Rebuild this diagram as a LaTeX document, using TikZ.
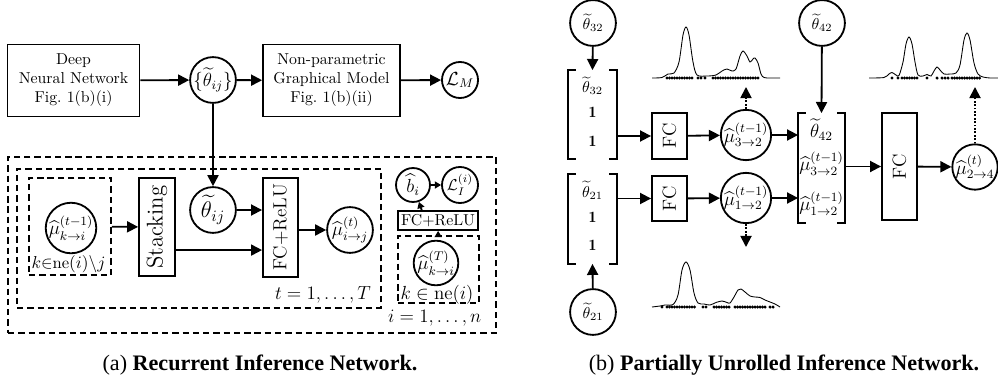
\documentclass[tikz,border=0pt]{standalone}
\usepackage{amsmath, amssymb}
\usepackage{fontspec}
\newfontfamily\capfont{Liberation Serif}
\usetikzlibrary{arrows.meta}

% square brackets round a stacked vector node
\newcommand{\vecbrackets}[1]{%
  \draw ([xshift=5pt]#1.north west) -- (#1.north west) -- (#1.south west) -- ([xshift=5pt]#1.south west);
  \draw ([xshift=-5pt]#1.north east) -- (#1.north east) -- (#1.south east) -- ([xshift=-5pt]#1.south east);}

\begin{document}
\begin{tikzpicture}[x=0.633pt, y=-0.633pt, line width=1.15pt,
  >={Triangle[length=7pt,width=7pt]},
  box/.style={rectangle, draw, align=center, inner sep=1pt},
  unit/.style={circle, draw, inner sep=0pt, minimum size=29pt},
  plate/.style={rectangle, draw, dash pattern=on 4pt off 2.5pt},
  smallhead/.style={-{Triangle[length=4pt,width=4.5pt]}},
  kde/.style={line width=0.55pt}]
\useasboundingbox (0,0) rectangle (998,381);

% (a) recurrent network
\node[box, minimum width=83.6pt, minimum height=45.6pt] (dnn) at (73.5,80.5) {Deep\\Neural Network\\Fig.~1(b)(i)};
\node[unit, font=\large] (thetaset) at (213,80) {$\{\widetilde{\theta}_{ij}\}$};
\node[box, minimum width=86.7pt, minimum height=45.6pt] (npgm) at (331.5,80.5) {Non-parametric\\Graphical Model\\Fig.~1(b)(ii)};
\node[unit, minimum size=22.8pt, font=\large] (lossM) at (460,80) {$\mathcal{L}_M$};

\node[plate, minimum width=308.9pt, minimum height=111.4pt] (iplate) at (252,245) {};
\node[anchor=south east, font=\large] (ilabel) at ([xshift=-6pt,yshift=1pt]iplate.south east) {$i=1,\ldots,n$};
\node[plate, minimum width=230.4pt, minimum height=88pt] (tplate) at (199,238.5) {};
\node[anchor=south east, font=\large] (tlabel) at ([xshift=-3pt]tplate.south east) {$t=1,\ldots,T$};
\node[plate, minimum width=51.9pt, minimum height=61.4pt] (kplate) at (70,226.5) {};
\node[unit, minimum size=27.9pt, font=\large] (muprev) at (71,228) {$\widehat{\mu}^{(t-1)}_{k\to i}$};
\node[font=\fontsize{10.5}{12}\selectfont] (kne) at (68.5,264) {$k{\in}\mathrm{ne}(i){\backslash}j$};

\node[box, minimum width=22.8pt, minimum height=62pt, font=\Large] (stack) at (157,227) {\rotatebox{90}{Stacking}};
\node[unit, font=\Large] (thetaij) at (213,210) {$\widetilde{\theta}_{ij}$};
\node[box, minimum width=22.2pt, minimum height=62.7pt, font=\large] (fcrelu) at (280.5,227.5) {\rotatebox{90}{FC+ReLU}};
\node[unit, font=\large] (munew) at (350,230) {$\widehat{\mu}^{(t)}_{i\to j}$};

\node[plate, minimum width=51.3pt, minimum height=42.4pt] (Tplate) at (438.5,269.5) {};
\node[unit, minimum size=27.9pt, font=\large] (mulast) at (436,263) {$\widehat{\mu}^{(T)}_{k\to i}$};
\node[font=\large] (kne2) at (437,295) {$k\in\mathrm{ne}(i)$};
\node[box, minimum width=50.6pt, minimum height=12pt, inner sep=0.5pt] (fcr2) at (438,220.5) {FC+ReLU};
\node[unit, minimum size=21.5pt, font=\large] (bi) at (413,185) {$\widehat{b}_i$};
\node[unit, minimum size=22.8pt] (lossI) at (460,185) {$\mathcal{L}_I^{(i)}$};

\draw[->] (dnn) -- (thetaset);
\draw[->] (thetaset) -- (npgm);
\draw[->] (npgm) -- (lossM);
\draw[->] (thetaset) -- (thetaij);
\draw[->] (kplate) -- (stack);
\draw[->] (thetaij) -- (thetaij -| fcrelu.west);
\draw[->] ([yshift=-14.6pt]stack.east) -- ([yshift=-14.6pt]stack.east -| fcrelu.west);
\draw[->] (fcrelu.east |- munew) -- (munew);
\draw[smallhead] (Tplate) -- (fcr2);
\draw[smallhead] ([xshift=-10.3pt]fcr2.north) -- (bi);
\draw[smallhead] (bi) -- (lossI);

% (b) partially unrolled network
\node[unit] (th32) at (593,23) {$\widetilde{\theta}_{32}$};
\node[minimum width=29.8pt, minimum height=55.1pt, inner sep=0pt] (v32) at (592.5,114.5) {$\begin{array}{c}\widetilde{\theta}_{32}\\[4pt]\mathbf{1}\\[6pt]\mathbf{1}\end{array}$};
\node[box, minimum width=22.2pt, minimum height=29.1pt, font=\large] (fc32) at (669.5,136) {\rotatebox{90}{FC}};
\node[unit, minimum size=27.9pt, font=\large] (mu32) at (746,135) {$\widehat{\mu}^{(t-1)}_{3\to 2}$};
\coordinate (up32) at (746,87);

\node[minimum width=29.8pt, minimum height=55.7pt, inner sep=0pt] (v21) at (592.5,219) {$\begin{array}{c}\widetilde{\theta}_{21}\\[4pt]\mathbf{1}\\[6pt]\mathbf{1}\end{array}$};
\node[box, minimum width=22.2pt, minimum height=28.5pt, font=\large] (fc21) at (669.5,198.5) {\rotatebox{90}{FC}};
\node[unit, minimum size=27.9pt, font=\large] (mu12) at (746,198) {$\widehat{\mu}^{(t-1)}_{1\to 2}$};
\coordinate (down12) at (746,247);
\node[unit] (th21) at (593,312) {$\widetilde{\theta}_{21}$};

\node[unit] (th42) at (822,23) {$\widetilde{\theta}_{42}$};
\node[minimum width=28.5pt, minimum height=68.4pt, inner sep=0pt, font=\large] (v42) at (821.5,168) {$\begin{array}{@{}c@{}}\widetilde{\theta}_{42}\\[5pt]\widehat{\mu}^{(t-1)}_{3\to 2}\\[9pt]\widehat{\mu}^{(t-1)}_{1\to 2}\end{array}$};
\node[box, minimum width=22.2pt, minimum height=67.7pt, font=\large] (fc42) at (899.5,166.5) {\rotatebox{90}{FC}};
\node[unit, minimum size=27.9pt, font=\large] (mu24) at (975,167) {$\widehat{\mu}^{(t)}_{2\to 4}$};
\coordinate (up24) at (975,87);

\vecbrackets{v32}
\vecbrackets{v21}
\vecbrackets{v42}

\draw[->] (th32) -- (v32.north);
\draw[->] (fc32.west -| v32.east) -- (fc32.west);
\draw[->] (fc32) -- (mu32);
\draw[->] (mu32) -- (mu32 -| v42.west);
\draw[->, densely dotted] (mu32) -- (up32);
\draw[->] (th21) -- (v21.south);
\draw[->] (fc21.west -| v21.east) -- (fc21.west);
\draw[->] (fc21) -- (mu12);
\draw[->] (mu12) -- (mu12 -| v42.west);
\draw[->, densely dotted] (mu12) -- (down12);
\draw[->] (th42) -- (v42.north);
\draw[->] (v42.east |- fc42) -- (fc42);
\draw[->] (fc42) -- (mu24);
\draw[->, densely dotted] (mu24) -- (up24);

% sample densities
\draw[kde] plot[smooth] coordinates {(652,78) (662,77.5) (668,74) (674,73) (679,62) (683,35) (686,27) (689,35) (693,62) (697,75) (707,76) (716,75) (722,71) (727,69) (732,71) (736,69) (740,56) (743,51) (747,56) (750,62) (753,59) (755,58) (758,63) (761,74) (764,77.5) (770,78) (780,78)};
\foreach \x in {667,669.5,...,692,698,701,705,713,715.5,...,758} \fill (\x,78) circle (1.1pt);
\draw[kde] plot[smooth] coordinates {(869,78) (884,77.5) (889,74) (892,72.5) (896,75) (899,75.5) (903,62) (906,44) (909,37) (912,44) (915,62) (918,75) (923,76) (927,74.5) (931,76) (934,71) (937,67) (940,70) (944,74) (950,74) (956,73) (960,65) (964,40) (967,33) (970,40) (974,63) (978,74) (983,77) (990,78) (998,78)};
\foreach \x in {892,898,902,904.5,...,917,927,937,942,945,948,952,954.5,...,980} \fill (\x,78) circle (1.1pt);
\draw[kde] plot[smooth] coordinates {(652,307) (660,306) (665,305) (673,304.5) (678,295) (682,270) (686,262) (690,270) (694,293) (698,303) (704,304) (710,305) (716,302.5) (722,301) (727,302.5) (730,303) (734,297) (738,290) (741,289) (745,292) (750,296) (755,297) (760,297.5) (765,300) (770,302) (775,304) (780,307)};
\foreach \x in {662,667,669.5,...,695,703,706,714,716.5,...,730,735,737.5,...,765,770,773} \fill (\x,307) circle (1.1pt);

\node[font=\capfont\fontsize{14}{16}\selectfont] (capa) at (260,365) {(a) \textbf{Recurrent Inference Network.}};
\node[font=\capfont\fontsize{14}{16}\selectfont] (capb) at (784,365) {(b) \textbf{Partially Unrolled Inference Network.}};
\end{tikzpicture}
\end{document}
